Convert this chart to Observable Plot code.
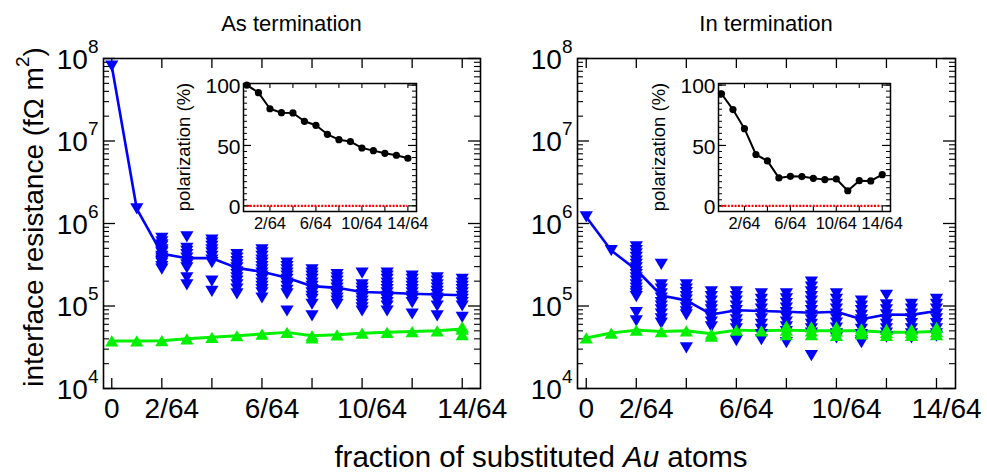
<!DOCTYPE html>
<html><head><meta charset="utf-8">
<script src="https://cdn.jsdelivr.net/npm/d3@7"></script>
<script src="https://cdn.jsdelivr.net/npm/@observablehq/plot@0.6"></script>
<style>
html,body{margin:0;padding:0;background:#fff;}
#chart{position:relative;width:987px;height:476px;overflow:hidden;background:#fff;font-family:"Liberation Sans",Arial,sans-serif;}
#chart svg{position:absolute;left:0;top:0;}
</style></head><body><div id="chart"></div>
<script>
// ---------- data ----------
const nSub = [0,1,2,3,4,5,6,7,8,9,10,11,12,13,14]; // number of substituted Au atoms (out of 64)
const xLabelZero = [0];
const xLabelOther = [2,6,10,14];
const yDecades = [1e4,1e5,1e6,1e7,1e8];
const panelTitles = ["As termination","In termination"];

// resistance lines (fΩ m²)
const asMinority = [8.1e7,1.5e6,4.3e5,3.8e5,3.8e5,2.9e5,2.6e5,2.2e5,1.74e5,1.66e5,1.48e5,1.45e5,1.41e5,1.38e5,1.35e5];
const asMajority = [3.77e4,3.77e4,3.8e4,4.0e4,4.17e4,4.36e4,4.57e4,4.79e4,4.36e4,4.47e4,4.68e4,4.79e4,4.9e4,5.0e4,5.25e4];
const inMinority = [1.2e6,4.7e5,2.75e5,1.34e5,1.17e5,7.9e4,8.9e4,8.7e4,8.5e4,8.3e4,8.5e4,6.9e4,7.9e4,7.8e4,8.7e4];
const inMajority = [4.1e4,4.7e4,5.1e4,4.9e4,5.0e4,4.6e4,5.1e4,5.0e4,5.1e4,5.0e4,5.0e4,5.0e4,4.8e4,4.8e4,4.9e4];

// individual configurations (minority channel), indexed by nSub
const asMinorityConfigs = [
  [],[],
  [6.6e5,6.0e5,5.5e5,5.3e5,4.8e5,4.6e5,4.4e5,4.0e5,3.8e5,3.6e5,3.45e5,3.3e5,3.0e5,2.8e5],
  [6.9e5,5.0e5,4.6e5,4.2e5,3.8e5,3.45e5,3.15e5,2.9e5,2.2e5,1.8e5],
  [6.3e5,5.8e5,5.3e5,4.8e5,4.4e5,4.0e5,3.6e5,3.35e5,2.0e5,1.5e5],
  [4.2e5,3.8e5,3.45e5,3.15e5,2.9e5,2.6e5,2.4e5,2.2e5,2.0e5,1.8e5,1.6e5,1.4e5],
  [4.8e5,4.4e5,4.0e5,3.6e5,3.3e5,3.0e5,2.75e5,2.5e5,2.3e5,2.1e5,1.9e5,1.73e5,1.58e5,1.44e5,1.25e5],
  [3.3e5,3.0e5,2.75e5,2.5e5,2.3e5,2.1e5,1.9e5,1.73e5,1.55e5,1.4e5,8.7e4],
  [2.75e5,2.5e5,2.3e5,2.1e5,1.9e5,1.73e5,1.58e5,1.44e5,1.31e5,1.2e5,1.05e5,7.6e4],
  [2.4e5,2.2e5,2.0e5,1.8e5,1.65e5,1.5e5,1.37e5,1.25e5,1.15e5,1.05e5],
  [2.5e5,1.8e5,1.65e5,1.5e5,1.37e5,1.25e5,1.15e5,1.05e5,9.5e4,8.7e4],
  [2.5e5,2.3e5,2.1e5,1.9e5,1.73e5,1.58e5,1.44e5,1.31e5,1.2e5,1.1e5,1.0e5,8.7e4],
  [2.3e5,2.1e5,1.9e5,1.73e5,1.58e5,1.44e5,1.31e5,1.2e5,1.1e5,8.0e4],
  [2.2e5,2.0e5,1.8e5,1.65e5,1.5e5,1.37e5,1.25e5,1.15e5,1.0e5,7.6e4],
  [2.1e5,1.9e5,1.73e5,1.58e5,1.44e5,1.31e5,1.2e5,1.1e5,1.0e5,7.3e4]
];
const inMinorityConfigs = [
  [],[],
  [5.2e5,4.7e5,4.3e5,3.9e5,3.5e5,3.2e5,2.9e5,2.6e5,2.4e5,2.2e5,2.0e5,1.8e5,1.65e5,1.5e5,1.4e5,1.3e5,8.3e4,6.6e4],
  [3.2e5,1.8e5,1.6e5,1.4e5,1.25e5,1.1e5,1.0e5,9e4,8e4,7e4,6.2e4],
  [1.8e5,1.6e5,1.45e5,1.3e5,1.18e5,1.05e5,9.5e4,8.5e4,7.8e4,3.1e4],
  [1.48e5,1.3e5,1.15e5,1.0e5,9e4,8e4,7.2e4,6.4e4,5.6e4],
  [1.48e5,1.3e5,1.15e5,1.0e5,8.8e4,7.8e4,6.8e4,6.0e4,5.3e4,3.8e4],
  [1.4e5,1.2e5,1.05e5,9.2e4,8e4,7e4,6e4,5.2e4,4.5e4,3.9e4],
  [1.4e5,1.22e5,1.07e5,9.4e4,8.3e4,7.3e4,6.4e4,5.6e4,4.9e4,3.6e4],
  [1.95e5,1.7e5,1.48e5,1.3e5,1.15e5,1.0e5,8.8e4,7.7e4,6.8e4,6e4,5.3e4,4.7e4,2.5e4],
  [1.4e5,1.2e5,1.05e5,9.2e4,8e4,7e4,6.2e4,5.4e4,4.6e4,4.1e4],
  [1.15e5,1.0e5,8.8e4,7.7e4,6.8e4,6e4,5.2e4,4.5e4,3.8e4,3.6e4],
  [1.35e5,1.03e5,9e4,7.8e4,6.8e4,6e4,5.3e4,4.7e4,4.2e4],
  [1.05e5,9.2e4,8e4,7e4,6.1e4,5.3e4,4.6e4,4.1e4],
  [1.2e5,1.05e5,9.2e4,8e4,7e4,6.1e4,5.3e4,4.6e4,4.3e4]
];
// individual configurations (majority channel)
const asMajorityConfigs = [[],[],[],[],[],[],[],[],[4.1e4],[],[],[],[],[],[4.5e4,5.6e4]];
const inMajorityConfigs = [[],[],[],[],[],[4.3e4],[],[],[5.7e4,4.5e4],[5.6e4,4.5e4],[5.6e4,4.4e4],[5.3e4,4.6e4],[5.2e4,4.4e4],[4.4e4,5.2e4],[4.5e4,5.5e4]];

// inset: polarization (%)
const asPolarization = [100,93.7,80.4,77.1,76.9,70.0,66.7,59.2,54.8,53.2,47.9,45.7,43.5,41.9,39.4];
const inPolarization = [92.8,79.7,63.9,42.5,37.2,23.1,24.4,24.2,22.8,21.7,22.2,12.5,20.8,20.6,25.8];
const polarTicks = [0,50,100];
const polarLabelX = [2,6,10,14];

// ---------- drawing ----------
const W = 987, H = 476;
const FONT = '"Liberation Sans", Arial, Helvetica, sans-serif';
const BLUE = "#0000ff", GREEN = "#00f000";
const svgNS = "http://www.w3.org/2000/svg";
const MR = 6.6; // marker radius

const triDown = {draw(ctx, size){ const r = Math.sqrt(size/Math.PI); const w = r*1.0, h = r*0.85;
  ctx.moveTo(-w,-h); ctx.lineTo(w,-h); ctx.lineTo(0,h); ctx.closePath(); }};
const triUp = {draw(ctx, size){ const r = Math.sqrt(size/Math.PI); const w = r*1.0, h = r*0.85;
  ctx.moveTo(-w,h); ctx.lineTo(w,h); ctx.lineTo(0,-h); ctx.closePath(); }};

const chart = document.getElementById("chart");

function mainPanel({minority, majority, minorityConfigs, majorityConfigs, ml, mr, xdom}) {
  const mt = 58, mb = 88;
  const fw = W - ml - mr, fh = H - mt - mb;
  const minRows = nSub.map((n,i) => ({n, r: minority[i]}));
  const majRows = nSub.map((n,i) => ({n, r: majority[i]}));
  const minCfg = minorityConfigs.flatMap((vals,i) => vals.map(v => ({n: nSub[i], r: v})));
  const majCfg = majorityConfigs.flatMap((vals,i) => vals.map(v => ({n: nSub[i], r: v})));
  const minorY = d3.range(4,8).flatMap(e => d3.range(2,10).map(m => m*10**e));
  const xTicks = nSub.filter(n => n % 2 === 0);
  const svg = Plot.plot({
    width: W, height: H, marginLeft: ml, marginRight: mr, marginTop: mt, marginBottom: mb,
    style: {background: "transparent", fontFamily: FONT, overflow: "visible", color: "#000"},
    x: {domain: xdom},
    y: {type: "log", domain: [1e4, 1e8]},
    marks: [
      Plot.tickY(yDecades, {y: d => d, insetRight: fw - 12, stroke: "#000", strokeWidth: 1.3}),
      Plot.tickY(minorY, {y: d => d, insetRight: fw - 6, stroke: "#000", strokeWidth: 1.1}),
      Plot.tickY(yDecades, {y: d => d, insetLeft: fw - 12, stroke: "#000", strokeWidth: 1.3}),
      Plot.tickY(minorY, {y: d => d, insetLeft: fw - 6, stroke: "#000", strokeWidth: 1.1}),
      Plot.tickX(xTicks, {x: d => d, insetTop: fh - 10, stroke: "#000", strokeWidth: 1.3}),
      Plot.tickX(xTicks, {x: d => d, insetBottom: fh - 10, stroke: "#000", strokeWidth: 1.3}),
      Plot.line(majRows, {x: "n", y: "r", stroke: GREEN, strokeWidth: 3}),
      Plot.line(minRows, {x: "n", y: "r", stroke: BLUE, strokeWidth: 2.6}),
      Plot.dot(minCfg, {x: "n", y: "r", symbol: triDown, r: MR, fill: BLUE, stroke: null}),
      Plot.dot(minRows.filter(d => d.n < 2), {x: "n", y: "r", symbol: triDown, r: MR, fill: BLUE}),
      Plot.dot(majCfg, {x: "n", y: "r", symbol: triUp, r: MR, fill: GREEN}),
      Plot.dot(majRows, {x: "n", y: "r", symbol: triUp, r: MR, fill: GREEN}),
      Plot.frame({stroke: "#000", strokeWidth: 1.6}),
      Plot.axisY(yDecades, {anchor: "left", tickSize: 0, tickPadding: 5, label: null, fontSize: 28, dy: 1.5,
        tickFormat: d => String(Math.round(Math.log10(d)))}),
      Plot.axisX(xLabelZero, {anchor: "bottom", tickSize: 0, tickPadding: 10, label: null, fontSize: 28,
        tickFormat: d => String(d)}),
      Plot.axisX(xLabelOther, {anchor: "bottom", tickSize: 0, tickPadding: 10, label: null, fontSize: 28, dx: 10,
        tickFormat: d => `${d}/64`})
    ]
  });
  // superscript exponents for the decade labels
  svg.querySelectorAll('g[aria-label="y-axis tick label"] text').forEach(t => {
    const e = t.textContent;
    t.textContent = "10";
    const ts = document.createElementNS(svgNS, "tspan");
    ts.setAttribute("dy", "-16");
    ts.setAttribute("font-size", "19");
    ts.textContent = e;
    t.appendChild(ts);
  });
  return svg;
}

function insetPanel({polar, ml, mr, xdom}) {
  const mt = 83, mb = H - 211;
  const fw = W - ml - mr, fh = H - mt - mb;
  const rows = nSub.map((n,i) => ({n, p: polar[i]}));
  const xTicks = nSub.filter(n => n % 2 === 0 && n > 0);
  const yMinor = d3.range(0, 101, 5);
  return Plot.plot({
    width: W, height: H, marginLeft: ml, marginRight: mr, marginTop: mt, marginBottom: mb,
    style: {background: "transparent", fontFamily: FONT, overflow: "visible", color: "#000"},
    x: {domain: xdom},
    y: {domain: [-4.7, 101.3]},
    marks: [
      Plot.frame({fill: "#fff"}),
      Plot.tickY(yMinor, {y: d => d, insetRight: fw - 4, stroke: "#000", strokeWidth: 1}),
      Plot.tickY(yMinor, {y: d => d, insetLeft: fw - 4, stroke: "#000", strokeWidth: 1}),
      Plot.tickY(polarTicks, {y: d => d, insetRight: fw - 8, stroke: "#000", strokeWidth: 1.2}),
      Plot.tickY(polarTicks, {y: d => d, insetLeft: fw - 8, stroke: "#000", strokeWidth: 1.2}),
      Plot.tickX(xTicks, {x: d => d, insetTop: fh - 5, stroke: "#000", strokeWidth: 1.1}),
      Plot.tickX(xTicks, {x: d => d, insetBottom: fh - 5, stroke: "#000", strokeWidth: 1.1}),
      Plot.ruleY([0], {x1: nSub[0], x2: nSub[nSub.length-1], stroke: "#ff0000", strokeWidth: 2.2, strokeDasharray: "2,1.4"}),
      Plot.line(rows, {x: "n", y: "p", stroke: "#000", strokeWidth: 2}),
      Plot.dot(rows, {x: "n", y: "p", r: 3.6, fill: "#000"}),
      Plot.frame({stroke: "#000", strokeWidth: 1.5}),
      Plot.axisY(polarTicks, {anchor: "left", tickSize: 0, tickPadding: 3, label: null, fontSize: 21, dy: 1.5}),
      Plot.axisX(polarLabelX, {anchor: "bottom", tickSize: 0, tickPadding: 6, label: null, fontSize: 16.5,
        tickFormat: d => `${d}/64`})
    ]
  });
}

chart.appendChild(mainPanel({minority: asMinority, majority: asMajority, minorityConfigs: asMinorityConfigs,
  majorityConfigs: asMajorityConfigs, ml: 103, mr: W - 480, xdom: [-0.33, 14.73]}));
chart.appendChild(mainPanel({minority: inMinority, majority: inMajority, minorityConfigs: inMinorityConfigs,
  majorityConfigs: inMajorityConfigs, ml: 577, mr: W - 955, xdom: [-0.35, 14.76]}));
chart.appendChild(insetPanel({polar: asPolarization, ml: 243, mr: W - 416, xdom: [-0.3, 14.75]}));
chart.appendChild(insetPanel({polar: inPolarization, ml: 718, mr: W - 890, xdom: [-0.26, 14.72]}));

// ---------- text overlay ----------
const ov = d3.create("svg").attr("width", W).attr("height", H)
  .style("font-family", FONT).style("overflow", "visible");
ov.append("text").attr("x", 291.5).attr("y", 31).attr("text-anchor", "middle").attr("font-size", 22).text(panelTitles[0]);
ov.append("text").attr("x", 766).attr("y", 31).attr("text-anchor", "middle").attr("font-size", 22).text(panelTitles[1]);
const yl = ov.append("text").attr("transform", "translate(43,217) rotate(-90)").attr("text-anchor", "middle").attr("font-size", 28);
yl.append("tspan").text("interface resistance (fΩ m");
yl.append("tspan").attr("font-size", 19).attr("dy", -14).text("2");
yl.append("tspan").attr("dy", 14).text(")");
const xl = ov.append("text").attr("x", 541).attr("y", 467).attr("text-anchor", "middle").attr("font-size", 29.5);
xl.append("tspan").text("fraction of substituted ");
xl.append("tspan").attr("font-style", "italic").text("Au");
xl.append("tspan").text(" atoms");
for (const [x, label] of [[190, "polarization (%)"], [665, "polarization (%)"]]) {
  ov.append("text").attr("transform", `translate(${x},147) rotate(-90)`).attr("text-anchor", "middle")
    .attr("font-size", 18.5).text(label);
}
chart.appendChild(ov.node());
</script>
</body></html>
